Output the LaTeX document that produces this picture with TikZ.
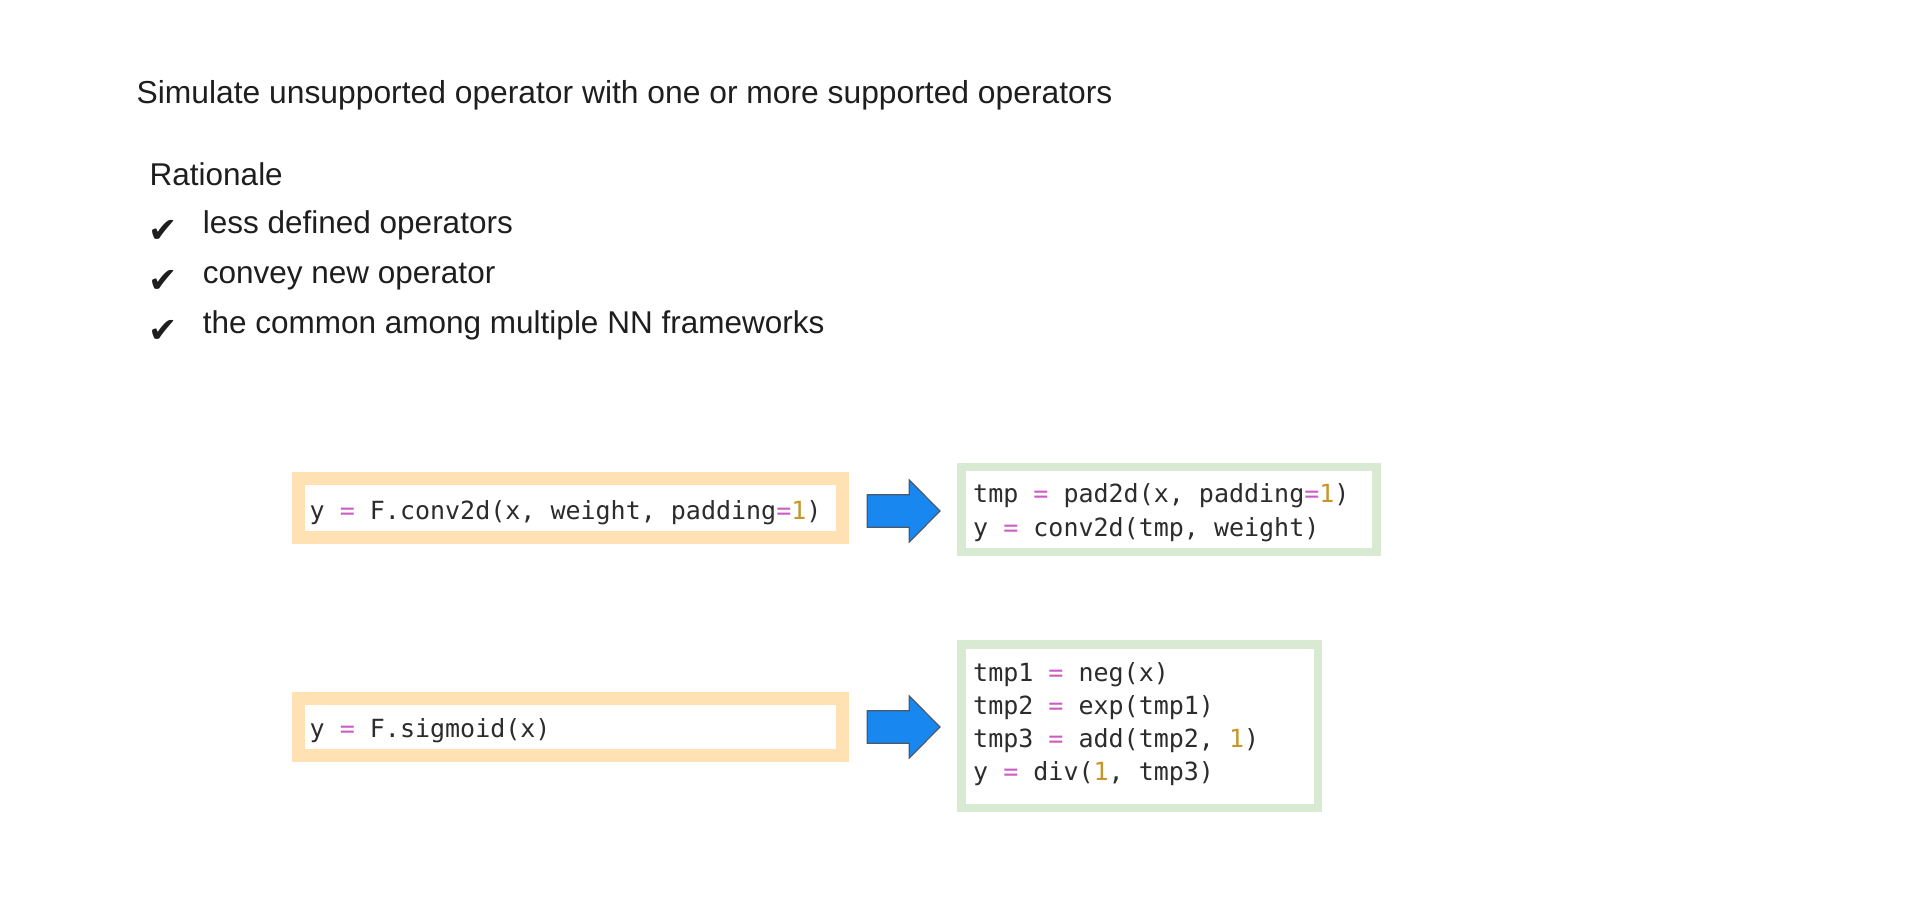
\documentclass[tikz,border=0pt]{standalone}
\usepackage{fontspec}
\setmainfont{Liberation Sans}
\setmonofont{DejaVu Sans Mono}
\newfontfamily\symfont{DejaVu Sans}

\definecolor{bodytext}{HTML}{1E1E1E}
\definecolor{codetext}{HTML}{2C2C2C}
\definecolor{codeop}{HTML}{CC5BC4}
\definecolor{codenum}{HTML}{C6962A}
\definecolor{srcframe}{HTML}{FFE1B4}
\definecolor{dstframe}{HTML}{D9EAD3}
\definecolor{arrowfill}{HTML}{1888F0}
\definecolor{arrowedge}{HTML}{4A5A6A}

\newcommand{\opeq}{\textcolor{codeop}{=}}
\newcommand{\numone}{\textcolor{codenum}{1}}

\tikzset{
  plain/.style={inner sep=0pt, anchor=base west, text=bodytext,
    font=\fontsize{31.5}{38}\selectfont},
  titletext/.style={plain, font=\fontsize{31.8}{38}\selectfont},
  tick/.style={inner sep=0pt, anchor=center, text=bodytext,
    font=\symfont\fontsize{35}{40}\selectfont},
  code/.style={inner sep=0pt, anchor=base west, text=codetext,
    font=\ttfamily\fontsize{25}{33}\selectfont},
  srcbox/.style={draw=srcframe, line width=13pt, fill=white, inner sep=0pt},
  dstbox/.style={draw=dstframe, line width=8.5pt, fill=white, inner sep=0pt},
  blockarrow/.style={fill=arrowfill, draw=arrowedge, line width=1.2pt, line join=miter},
}

\begin{document}
\begin{tikzpicture}[x=1pt, y=-1pt]
\useasboundingbox (0,0) rectangle (1909,899);

% heading and rationale list
\node[titletext] (title) at (136.5,103) {Simulate unsupported operator with one or more supported operators};
\node[plain] (rationale) at (149.5,185) {Rationale};
\node[tick] (tick1) at (163.3,231) {✔};
\node[plain] (item1) at (202.7,233.5) {less defined operators};
\node[tick] (tick2) at (163.3,281) {✔};
\node[plain] (item2) at (202.7,283.5) {convey new operator};
\node[tick] (tick3) at (163.3,331) {✔};
\node[plain] (item3) at (202.7,333.5) {the common among multiple NN frameworks};

% first example: conv2d with padding
\node[srcbox, minimum width=543.6pt, minimum height=58.8pt] (src1) at (570.3,508.3) {};
\node[code] (src1line) at (309.5,519) {y \opeq{} F.conv2d(x, weight, padding\opeq\numone)};
\coordinate (arr1) at (867.3,511);
\draw[blockarrow] (arr1) ++(0,-16.2) -- ++(42,0) -- ++(0,-14.8) -- ++(30.7,31)
  -- ++(-30.7,31) -- ++(0,-14.8) -- ++(-42,0) -- cycle;
\node[dstbox, minimum width=415.1pt, minimum height=85.3pt] (dst1) at (1168.8,509.5) {};
\node[code] (dst1a) at (973,502) {tmp \opeq{} pad2d(x, padding\opeq\numone)};
\node[code] (dst1b) at (973,536) {y \opeq{} conv2d(tmp, weight)};

% second example: sigmoid
\node[srcbox, minimum width=543.6pt, minimum height=57.5pt] (src2) at (570.3,726.8) {};
\node[code] (src2line) at (309.5,737) {y \opeq{} F.sigmoid(x)};
\coordinate (arr2) at (867.3,727);
\draw[blockarrow] (arr2) ++(0,-16.2) -- ++(42,0) -- ++(0,-14.8) -- ++(30.7,31)
  -- ++(-30.7,31) -- ++(0,-14.8) -- ++(-42,0) -- cycle;
\node[dstbox, minimum width=356.5pt, minimum height=163.5pt] (dst2) at (1139.5,726) {};
\node[code] (dst2a) at (973,681) {tmp1 \opeq{} neg(x)};
\node[code] (dst2b) at (973,714) {tmp2 \opeq{} exp(tmp1)};
\node[code] (dst2c) at (973,747) {tmp3 \opeq{} add(tmp2, \numone)};
\node[code] (dst2d) at (973,780) {y \opeq{} div(\numone, tmp3)};
\end{tikzpicture}
\end{document}
